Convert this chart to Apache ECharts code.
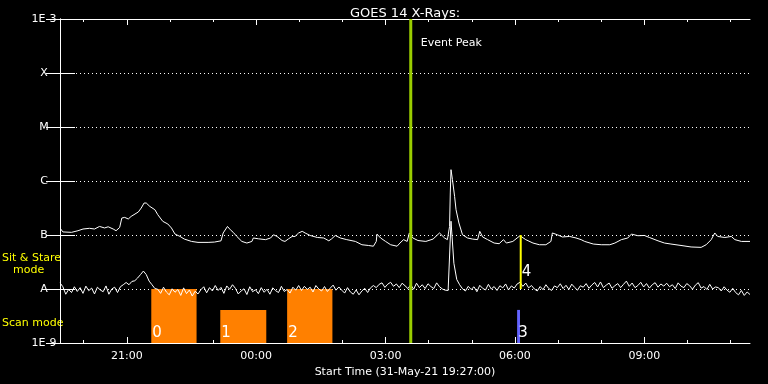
<!DOCTYPE html>
<html><head><meta charset="utf-8">
<script src="https://cdn.jsdelivr.net/npm/echarts@6/dist/echarts.min.js"></script>
<style>html,body{margin:0;padding:0;background:#000}#c{width:768px;height:384px}</style>
</head><body><div id="c"></div>
<script>
// ---- data ----
const titleText = 'GOES 14 X-Rays:';
const axisName = 'Start Time (31-May-21 19:27:00)';
const startClockMin = 19 * 60 + 27;           // 19:27
const spanMin = 960;                           // minutes shown
const hourTicks = [33,93,153,213,273,333,393,453,513,573,633,693,753,813,873,933];
const labelTicks = [93,273,453,633,813];
const levelLabels = ['1E-9','A','B','C','M','X','1E-3']; // decades, flux in 1e-9 W m^-2
// long channel (1-8 A), minutes from start / flux in 1e-9 W m^-2
const longTimes = [1,4,16,25,32,41,48,55,62,67,74,78,83,86,90,95,99,109,113,117,120,125,132,136,143,150,155,160,167,173,183,192,206,215,224,227,233,237,241,246,253,260,267,269,276,286,293,297,302,309,313,318,323,327,332,337,341,348,358,367,374,378,383,390,399,411,420,429,436,440,441,446,453,460,469,473,478,483,486,491,498,509,519,528,535,539,542,543,544,546,549,551,555,560,567,574,581,584,588,595,604,611,617,621,630,640,648,658,667,676,683,685,692,699,709,718,725,730,742,753,765,772,781,790,795,804,813,820,832,841,850,864,878,892,899,906,911,915,925,934,939,948,960];
const longFlux = [129,114,112,120,129,133,129,144,135,142,129,120,138,206,212,198,221,267,316,391,391,338,294,238,179,160,135,104,94,84,76,73,73,74,78,109,144,125,112,94,76,71,76,88,85,82,88,101,94,79,76,85,94,94,109,117,109,98,90,88,78,85,98,88,82,76,66,64,62,76,104,88,76,66,62,71,82,76,109,88,79,76,84,109,88,82,144,600,1620,1060,518,294,167,101,88,84,82,117,92,82,71,69,82,71,76,97,82,71,66,66,76,109,101,92,94,88,82,76,68,66,66,71,82,88,104,97,98,90,78,71,68,64,60,59,66,82,109,94,90,94,82,76,76];
// short channel (0.5-4 A), one reading every 4 minutes from start, flux in 1e-9 W m^-2
const shortStepMin = 4;
const shortFlux = [
 13.0,11.0,8.0,9.8,8.6,11.0,9.0,10.6,8.3,11.3,9.3,10.4,8.1,10.8,9.6,
 8.9,11.4,8.0,10.0,10.8,8.6,
 11.0,12.0,13.2,12.0,13.8,14.2,
 16.0,18.5,21.5,
 18.5,14.0,12.0,10.2,
 9.9,8.3,10.8,8.8,7.8,10.1,8.7,9.8,7.6,10.5,8.2,9.6,7.4,9.1,8.1,
 9.7,11.0,8.5,10.6,9.2,11.6,9.4,10.7,8.3,11.4,9.9,12.0,
 10.3,8.1,9.2,10.1,7.9,11.0,8.9,9.7,8.2,10.6,8.7,9.9,8.0,10.5,9.3,8.6,11.2,9.0,9.8,8.4,10.8,9.5,11.6,
 9.4,11.2,9.8,10.8,8.8,11.6,10.0,9.2,11.1,9.0,10.4,11.8,9.5,10.9,
 9.5,8.4,10.6,8.8,8.0,9.6,7.8,9.2,10.3,8.6,
 10.5,11.6,10.6,12.2,13.0,10.7,12.3,13.3,11.2,12.4,10.6,12.8,11.5,10.2,
 12.0,9.9,12.8,10.6,12.0,10.2,12.5,11.1,10.2,13.0,11.0,10.0,9.5,
 9.4,
 180,30,15,12,
 10.1,9.2,11.2,9.8,11.0,8.9,11.7,10.3,9.6,12.2,10.0,11.1,9.4,11.5,10.5,12.4,9.6,11.4,
 10.4,12.4,13.3,11.2,12.9,10.5,
 11.6,10.0,9.2,11.1,9.7,12.0,10.2,9.4,11.4,10.6,12.5,10.2,11.7,9.8,12.3,10.7,9.5,11.5,
 10.8,12.6,10.3,11.9,13.2,10.9,13.5,10.6,11.8,12.9,10.3,11.5,12.6,10.6,12.2,14.0,11.2,12.9,10.6,11.6,13.3,10.9,12.6,10.4,12.0,13.1,10.8,12.4,11.3,
 12.8,11.0,12.0,10.2,13.0,11.3,10.6,12.6,11.5,9.9,11.8,13.1,10.4,11.1,9.8,12.2,10.0,10.9,
 10.6,9.2,11.0,9.5,8.7,10.3,8.6,7.8,9.4,7.6,8.8,7.9
];
// observing modes
const scanIds = ['0','1','2','3'];
const scanStart = [127,223,316,636];
const scanEnd = [190,287,379,640];
const scanTop = [10,4.1,10,4.1];
const stareIds = ['4'];
const stareTime = [641];
const stareLow = [10];
const stareHigh = [100];
const eventTime = 488;
const eventLabel = 'Event Peak';
const modeSitStare = ['Sit & Stare', 'mode'];
const modeScan = 'Scan mode';

// ---- chart ----
const FONT = 'DejaVu Sans';
function clock(m){ const c = (startClockMin + Math.round(m)) % 1440; const h = Math.floor(c/60), mm = c%60; return (h<10?'0':'')+h+':'+(mm<10?'0':'')+mm; }
function levelName(v){ const k = Math.round(Math.log10(v)); return levelLabels[k] !== undefined ? levelLabels[k] : ''; }

const longData = longTimes.map((t,i)=>[t, longFlux[i]]);
const shortData = shortFlux.map((v,i)=>[i*shortStepMin, v]);
const scanData = scanIds.map((id,i)=>[scanStart[i], scanEnd[i], scanTop[i]]);
const stareData = stareIds.map((id,i)=>[stareTime[i], stareLow[i], stareHigh[i]]);

const white = '#ffffff';
const baseX = {type:'value', min:0, max:spanMin, gridIndex:0, splitLine:{show:false}};
const baseY = {type:'log', logBase:10, min:1, max:1e6, splitNumber:6, gridIndex:0};

const chart = echarts.init(document.getElementById('c'), null, {renderer:'canvas'});
chart.setOption({
  backgroundColor:'#000',
  animation:false,
  title:{text:titleText, left:400, top:2, textAlign:'center', textStyle:{color:white, fontFamily:FONT, fontSize:13, fontWeight:'normal'}},
  grid:{left:60, right:18, top:19, bottom:41, containLabel:false},
  xAxis:[
    Object.assign({}, baseX, {position:'bottom', axisLine:{lineStyle:{color:white, width:1}},
      axisTick:{inside:true, length:6, lineStyle:{color:white}, customValues:labelTicks},
      axisLabel:{color:white, fontFamily:FONT, fontSize:11, margin:8, customValues:labelTicks, formatter:clock},
      name:axisName, nameLocation:'middle', nameGap:21, nameTextStyle:{color:white, fontFamily:FONT, fontSize:11}}),
    Object.assign({}, baseX, {position:'top', axisLine:{lineStyle:{color:white, width:1}},
      axisTick:{inside:true, length:6, lineStyle:{color:white}, customValues:labelTicks}, axisLabel:{show:false}}),
    Object.assign({}, baseX, {position:'bottom', axisLine:{show:false},
      axisTick:{inside:true, length:3, lineStyle:{color:white}, customValues:hourTicks}, axisLabel:{show:false}}),
    Object.assign({}, baseX, {position:'top', axisLine:{show:false},
      axisTick:{inside:true, length:3, lineStyle:{color:white}, customValues:hourTicks}, axisLabel:{show:false}})
  ],
  yAxis:[
    Object.assign({}, baseY, {position:'left', axisLine:{show:true, lineStyle:{color:white, width:1}},
      axisTick:{show:true, inside:true, length:15, lineStyle:{color:white}},
      axisLabel:{color:white, fontFamily:FONT, fontSize:11, align:'center', verticalAlign:'middle',
        verticalAlignMinLabel:'middle', verticalAlignMaxLabel:'middle', margin:16, formatter:levelName},
      splitLine:{show:true, lineStyle:{color:white, width:1, type:[1,3]}}}),
    Object.assign({}, baseY, {position:'right', axisLine:{show:true, lineStyle:{color:white, width:1}},
      axisTick:{show:true, inside:true, length:14, lineStyle:{color:white}},
      axisLabel:{show:false}, splitLine:{show:false}})
  ],
  graphic:[
    {type:'text', left:2, top:253, style:{text:modeSitStare[0], fill:'#ffff00', font:'11px "DejaVu Sans"'}},
    {type:'text', left:13, top:265, style:{text:modeSitStare[1], fill:'#ffff00', font:'11px "DejaVu Sans"'}},
    {type:'text', left:2, top:318, style:{text:modeScan, fill:'#ffff00', font:'11px "DejaVu Sans"'}}
  ],
  series:[
    {type:'custom', xAxisIndex:0, yAxisIndex:0, z:1, data:scanData, clip:true,
      renderItem:function(params, api){
        const i = params.dataIndex;
        const p0 = api.coord([api.value(0), api.value(2)]);
        const p1 = api.coord([api.value(1), 1]);
        const fill = i === 3 ? '#6464ff' : '#ff8000';
        return {type:'group', children:[
          {type:'rect', shape:{x:p0[0], y:p0[1], width:Math.max(p1[0]-p0[0],1), height:p1[1]-p0[1]}, style:{fill:fill}},
          {type:'text', z2:5, style:{text:scanIds[i], x:p0[0]+1, y:p1[1]-2, align:'left', verticalAlign:'bottom', fill:white, font:'15px "DejaVu Sans"'}}
        ]};
      }},
    {type:'line', xAxisIndex:0, yAxisIndex:0, z:3, data:longData, showSymbol:false, symbol:'none',
      lineStyle:{color:white, width:1}},
    {type:'line', xAxisIndex:0, yAxisIndex:0, z:3, data:shortData, showSymbol:false, symbol:'none',
      lineStyle:{color:white, width:1}},
    {type:'custom', xAxisIndex:0, yAxisIndex:0, z:5, data:[[eventTime]],
      renderItem:function(params, api){
        const a = api.coord([api.value(0), 1e6]);
        const b = api.coord([api.value(0), 1]);
        return {type:'group', children:[
          {type:'line', shape:{x1:a[0], y1:a[1], x2:b[0], y2:b[1]}, style:{stroke:'#9acd00', lineWidth:3}},
          {type:'text', style:{text:eventLabel, x:a[0]+10, y:a[1]+24, align:'left', verticalAlign:'middle', fill:white, font:'11px "DejaVu Sans"'}}
        ]};
      }},
    {type:'custom', xAxisIndex:0, yAxisIndex:0, z:6, data:stareData,
      renderItem:function(params, api){
        const i = params.dataIndex;
        const a = api.coord([api.value(0), api.value(2)]);
        const b = api.coord([api.value(0), api.value(1)]);
        return {type:'group', children:[
          {type:'line', shape:{x1:a[0], y1:a[1], x2:b[0], y2:b[1]}, style:{stroke:'#ffff00', lineWidth:2}},
          {type:'text', style:{text:stareIds[i], x:a[0]+1, y:b[1]-9, align:'left', verticalAlign:'bottom', fill:white, font:'15px "DejaVu Sans"'}}
        ]};
      }}
  ]
});
</script></body></html>
